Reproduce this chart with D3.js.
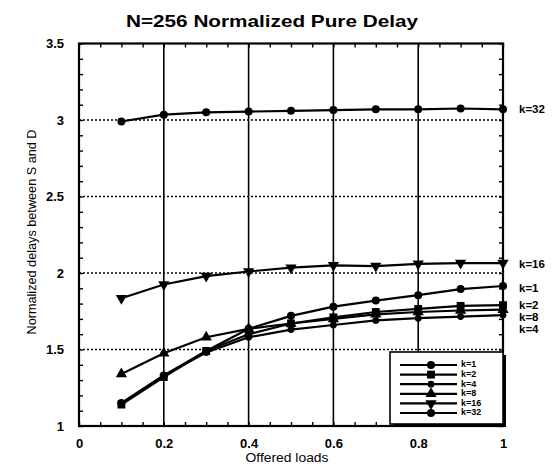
<!DOCTYPE html>
<html>
<head>
<meta charset="utf-8">
<script src="https://cdn.jsdelivr.net/npm/d3@7"></script>
<style>
  html, body { margin: 0; padding: 0; background: #fff; }
  svg { display: block; }
  text { font-family: "Liberation Sans", Arial, Helvetica, sans-serif; fill: #000; }
</style>
</head>
<body>
<svg id="chart" width="557" height="470"></svg>
<script>
// ---- data ----
const title = "N=256 Normalized Pure Delay";
const xLabel = "Offered loads";
const yLabel = "Normalized delays between S and D";
const loads = [0.1, 0.2, 0.3, 0.4, 0.5, 0.6, 0.7, 0.8, 0.9, 1.0];
const seriesNames = ["k=1", "k=2", "k=4", "k=8", "k=16", "k=32"];
const k1  = [1.15, 1.33, 1.49, 1.635, 1.72, 1.78, 1.82, 1.855, 1.895, 1.915];
const k2  = [1.14, 1.32, 1.49, 1.60, 1.67, 1.71, 1.745, 1.765, 1.785, 1.79];
const k4  = [1.15, 1.33, 1.48, 1.58, 1.63, 1.66, 1.69, 1.705, 1.715, 1.725];
const k8  = [1.34, 1.475, 1.58, 1.635, 1.67, 1.70, 1.73, 1.745, 1.755, 1.76];
const k16 = [1.835, 1.925, 1.98, 2.01, 2.035, 2.05, 2.045, 2.06, 2.065, 2.065];
const k32 = [2.99, 3.035, 3.05, 3.055, 3.06, 3.065, 3.07, 3.07, 3.075, 3.07];
const seriesMarkers = ["circle", "square", "smallcircle", "up", "down", "circle"];
const xTicks = [0, 0.2, 0.4, 0.6, 0.8, 1];
const yTicks = [1, 1.5, 2, 2.5, 3, 3.5];
// right-hand end labels: text and the value they sit at
const endLabels = ["k=32", "k=16", "k=1", "k=2", "k=8", "k=4"];
const endLabelValues = [3.065, 2.052, 1.895, 1.785, 1.705, 1.625];

const seriesValues = [k1, k2, k4, k8, k16, k32];

// ---- layout ----
const svg = d3.select("#chart");
const L = 79, R = 503, T = 43.5, B = 426;
const x = d3.scaleLinear().domain([0, 1]).range([L, R]);
const y = d3.scaleLinear().domain([1, 3.5]).range([B, T]);

// title
svg.append("text")
  .attr("x", 272).attr("y", 27)
  .attr("text-anchor", "middle")
  .attr("font-size", 17).attr("font-weight", "bold")
  .attr("textLength", 292).attr("lengthAdjust", "spacingAndGlyphs")
  .text(title);

// grid: vertical solid lines
svg.append("g").selectAll("line")
  .data(xTicks.filter(v => v > 0 && v < 1))
  .join("line")
  .attr("x1", d => x(d)).attr("x2", d => x(d))
  .attr("y1", T).attr("y2", B)
  .attr("stroke", "#000").attr("stroke-width", 1.6);

// grid: horizontal dotted lines
svg.append("g").selectAll("line")
  .data(yTicks.filter(v => v > 1 && v < 3.5))
  .join("line")
  .attr("x1", L).attr("x2", R)
  .attr("y1", d => y(d)).attr("y2", d => y(d))
  .attr("stroke", "#000").attr("stroke-width", 1.6)
  .attr("stroke-dasharray", "2,2");

// minor ticks (inward) using axes
const xMinor = d3.range(0, 1.0001, 0.05);
const yMinor = d3.range(1, 3.5001, 0.1);
function minorAxis(axis, transform) {
  const g = svg.append("g").attr("transform", transform).call(axis);
  g.select(".domain").remove();
  g.selectAll("text").remove();
  g.selectAll("line").attr("stroke", "#000").attr("stroke-width", 1.4);
}
minorAxis(d3.axisBottom(x).tickValues(xMinor).tickSize(-4), `translate(0,${B})`);
minorAxis(d3.axisTop(x).tickValues(xMinor).tickSize(-4), `translate(0,${T})`);
minorAxis(d3.axisLeft(y).tickValues(yMinor).tickSize(-4), `translate(${L},0)`);
minorAxis(d3.axisRight(y).tickValues(yMinor).tickSize(-4), `translate(${R},0)`);

// tick labels via axes
const fmt = d3.format("~g");
const xAxisG = svg.append("g").attr("transform", `translate(0,${B})`)
  .call(d3.axisBottom(x).tickValues(xTicks).tickFormat(fmt).tickSize(0).tickPadding(13));
xAxisG.select(".domain").remove();
xAxisG.selectAll("text").attr("font-size", 13).attr("font-weight", "bold")
  .attr("font-family", "'Liberation Sans', Arial, sans-serif");

const yAxisG = svg.append("g").attr("transform", `translate(${L},0)`)
  .call(d3.axisLeft(y).tickValues(yTicks).tickFormat(fmt).tickSize(0).tickPadding(15));
yAxisG.select(".domain").remove();
yAxisG.selectAll("text").attr("font-size", 13).attr("font-weight", "bold")
  .attr("font-family", "'Liberation Sans', Arial, sans-serif");

// frame
svg.append("rect")
  .attr("x", L).attr("y", T).attr("width", R - L).attr("height", B - T)
  .attr("fill", "none").attr("stroke", "#000").attr("stroke-width", 2.2);

// axis titles
svg.append("text")
  .attr("x", 287).attr("y", 462)
  .attr("text-anchor", "middle")
  .attr("font-size", 12)
  .attr("textLength", 83).attr("lengthAdjust", "spacingAndGlyphs")
  .text(xLabel);

svg.append("text")
  .attr("transform", "translate(36,232) rotate(-90)")
  .attr("text-anchor", "middle")
  .attr("font-size", 12)
  .attr("textLength", 205).attr("lengthAdjust", "spacingAndGlyphs")
  .text(yLabel);

// markers
function drawMarker(g, kind, cx, cy) {
  if (kind === "circle") {
    g.append("circle").attr("cx", cx).attr("cy", cy).attr("r", 4).attr("fill", "#000");
  } else if (kind === "smallcircle") {
    g.append("circle").attr("cx", cx).attr("cy", cy).attr("r", 3.4).attr("fill", "#000");
  } else if (kind === "square") {
    g.append("path").attr("d", d3.symbol(d3.symbolSquare, 62)())
      .attr("transform", `translate(${cx},${cy})`).attr("fill", "#000");
  } else if (kind === "up") {
    g.append("path").attr("d", d3.symbol(d3.symbolTriangle, 55)())
      .attr("transform", `translate(${cx},${cy})`).attr("fill", "#000");
  } else if (kind === "down") {
    g.append("path").attr("d", d3.symbol(d3.symbolTriangle, 55)())
      .attr("transform", `translate(${cx},${cy}) rotate(180)`).attr("fill", "#000");
  }
}

const line = d3.line().x((d, i) => x(loads[i])).y(d => y(d));
seriesValues.forEach((vals, si) => {
  const g = svg.append("g");
  g.append("path").attr("d", line(vals))
    .attr("fill", "none").attr("stroke", "#000").attr("stroke-width", 2.2)
    .attr("stroke-linejoin", "round");
  vals.forEach((v, i) => drawMarker(g, seriesMarkers[si], x(loads[i]), y(v)));
});

// end labels
svg.append("g").selectAll("text")
  .data(endLabels)
  .join("text")
  .attr("x", 519)
  .attr("y", (d, i) => y(endLabelValues[i]))
  .attr("dominant-baseline", "middle")
  .attr("font-size", 11.5).attr("font-weight", "bold")
  .text(d => d);

// legend
const lg = svg.append("g");
const lx0 = 390, ly0 = 352, lw = 113, lh = 72;
lg.append("rect").attr("x", lx0 + 3).attr("y", ly0 + 3).attr("width", lw).attr("height", lh)
  .attr("fill", "#000");
lg.append("rect").attr("x", lx0).attr("y", ly0).attr("width", lw).attr("height", lh)
  .attr("fill", "#fff").attr("stroke", "#000").attr("stroke-width", 1.6);
seriesNames.forEach((name, i) => {
  const ly = 365 + i * 9.6;
  lg.append("line").attr("x1", 400).attr("x2", 457).attr("y1", ly).attr("y2", ly)
    .attr("stroke", "#000").attr("stroke-width", 2.2);
  drawMarker(lg, seriesMarkers[i], 431, ly);
  lg.append("text").attr("x", 461).attr("y", ly).attr("dominant-baseline", "middle")
    .attr("font-size", 9).attr("font-weight", "bold").text(name);
});
</script>
</body>
</html>
